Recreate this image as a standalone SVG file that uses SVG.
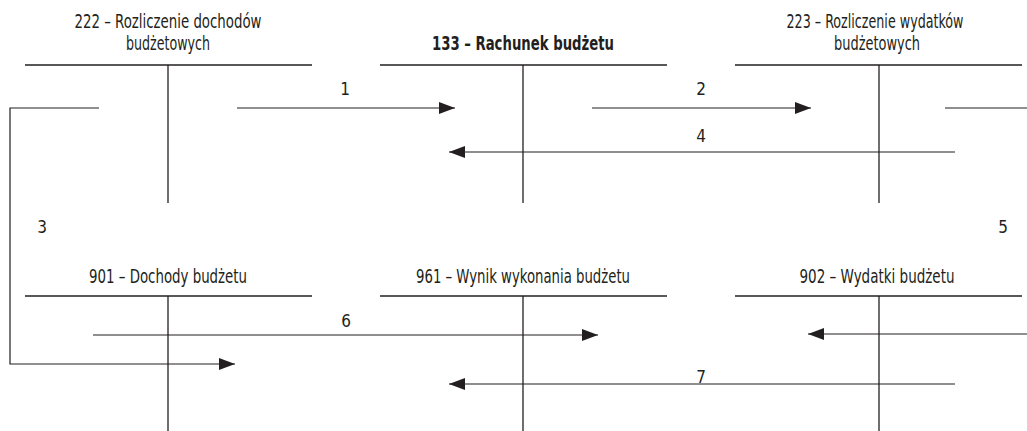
<svg xmlns="http://www.w3.org/2000/svg" width="1027" height="431" viewBox="0 0 1027 431">
  <style>
    text { font-family: "DejaVu Sans Condensed", "Liberation Sans", sans-serif; font-size: 17px; fill: #231f20; text-anchor: middle; }
    .title { font-size: 20px; }
    .bold { font-weight: bold; }
    .t { stroke: #231f20; stroke-width: 1.3; fill: none; }
    .c { stroke: #231f20; stroke-width: 1.2; fill: none; }
  </style>
  <defs>
    <marker id="arrow" viewBox="0 0 16 12" refX="16" refY="6" markerWidth="16" markerHeight="12" markerUnits="userSpaceOnUse" orient="auto">
      <path d="M0,0 L16,6 L0,12 Z" fill="#231f20"/>
    </marker>
  </defs>
  <rect width="1027" height="431" fill="#ffffff"/>

  <!-- T-account 222 -->
  <g id="acc222">
    <text class="title" x="168" y="28" textLength="187" lengthAdjust="spacingAndGlyphs">222 – Rozliczenie dochodów</text>
    <text class="title" x="168" y="50" textLength="84" lengthAdjust="spacingAndGlyphs">budżetowych</text>
    <line class="t" x1="25" y1="65" x2="312" y2="65"/>
    <line class="t" x1="168" y1="65" x2="168" y2="203"/>
  </g>

  <!-- T-account 133 -->
  <g id="acc133">
    <text class="title bold" x="523" y="50" textLength="182" lengthAdjust="spacingAndGlyphs">133 – Rachunek budżetu</text>
    <line class="t" x1="380" y1="65" x2="667" y2="65"/>
    <line class="t" x1="523" y1="65" x2="523" y2="203"/>
  </g>

  <!-- T-account 223 -->
  <g id="acc223">
    <text class="title" x="875" y="28" textLength="177" lengthAdjust="spacingAndGlyphs">223 – Rozliczenie wydatków</text>
    <text class="title" x="877" y="50" textLength="86" lengthAdjust="spacingAndGlyphs">budżetowych</text>
    <line class="t" x1="735" y1="65" x2="1022" y2="65"/>
    <line class="t" x1="879" y1="65" x2="879" y2="203"/>
  </g>

  <!-- T-account 901 -->
  <g id="acc901">
    <text class="title" x="168" y="283" textLength="158" lengthAdjust="spacingAndGlyphs">901 – Dochody budżetu</text>
    <line class="t" x1="25" y1="296" x2="312" y2="296"/>
    <line class="t" x1="168" y1="296" x2="168" y2="431"/>
  </g>

  <!-- T-account 961 -->
  <g id="acc961">
    <text class="title" x="523" y="283" textLength="214" lengthAdjust="spacingAndGlyphs">961 – Wynik wykonania budżetu</text>
    <line class="t" x1="380" y1="296" x2="667" y2="296"/>
    <line class="t" x1="523" y1="296" x2="523" y2="431"/>
  </g>

  <!-- T-account 902 -->
  <g id="acc902">
    <text class="title" x="877" y="283" textLength="155" lengthAdjust="spacingAndGlyphs">902 – Wydatki budżetu</text>
    <line class="t" x1="735" y1="296" x2="1022" y2="296"/>
    <line class="t" x1="879" y1="296" x2="879" y2="431"/>
  </g>

  <!-- Postings between accounts -->
  <g id="connectors">
    <line class="c" x1="237" y1="108" x2="455" y2="108" marker-end="url(#arrow)"/>
    <text x="345" y="95">1</text>
    <line class="c" x1="592" y1="108" x2="811" y2="108" marker-end="url(#arrow)"/>
    <text x="701" y="95">2</text>
    <line class="c" x1="945" y1="108" x2="1027" y2="108"/>
    <line class="c" x1="955" y1="152" x2="449" y2="152" marker-end="url(#arrow)"/>
    <text x="701" y="142">4</text>
    <polyline class="c" points="99,108 10,108 10,364 235,364" marker-end="url(#arrow)"/>
    <text x="42" y="233">3</text>
    <text x="1003" y="233">5</text>
    <line class="c" x1="93" y1="335" x2="598" y2="335" marker-end="url(#arrow)"/>
    <text x="346" y="327">6</text>
    <line class="c" x1="1027" y1="334" x2="808" y2="334" marker-end="url(#arrow)"/>
    <line class="c" x1="955" y1="384" x2="449" y2="384" marker-end="url(#arrow)"/>
    <text x="701" y="383">7</text>
  </g>
</svg>
